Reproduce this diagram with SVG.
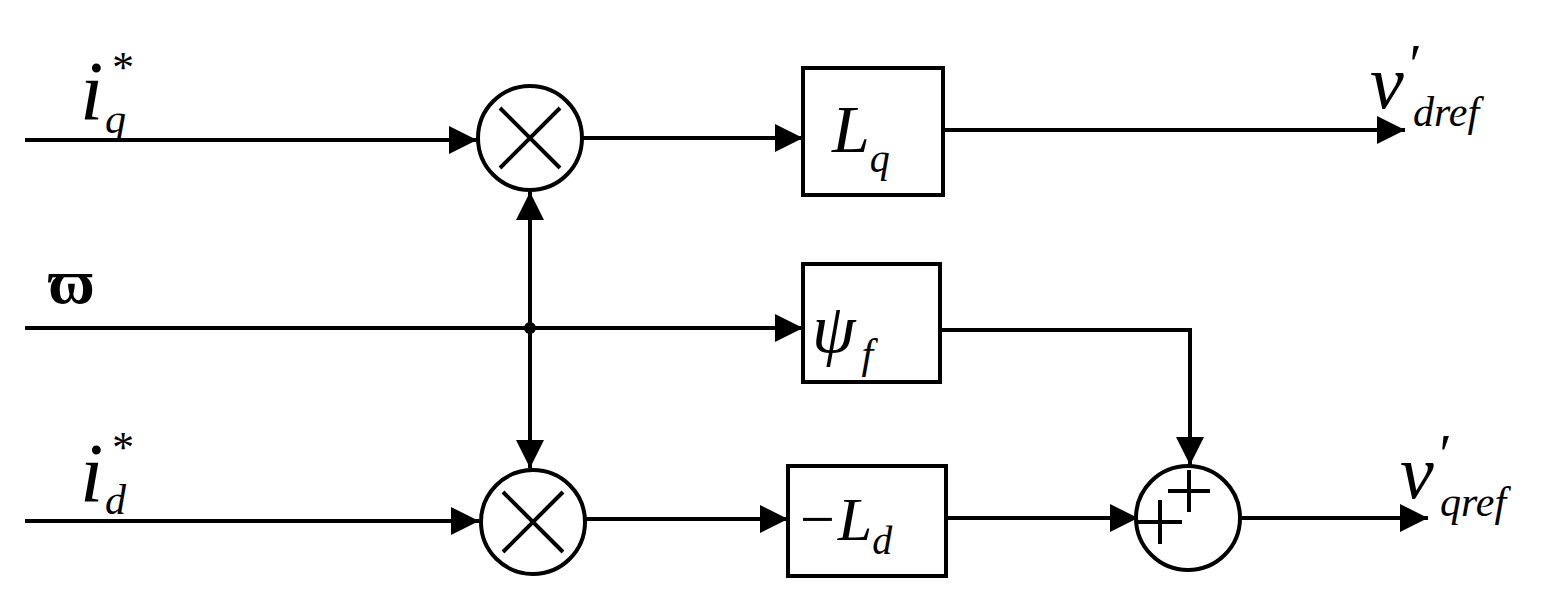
<svg xmlns="http://www.w3.org/2000/svg" width="1554" height="604" viewBox="0 0 1554 604">
<style>
.l{stroke:#000;stroke-width:4;fill:none}
.b{stroke:#000;stroke-width:4;fill:#fff}
.t{font-family:"Liberation Serif",serif;font-style:italic;fill:#000}
</style>
<defs>
<marker id="ah" viewBox="0 0 10 10" refX="10" refY="5" markerWidth="28" markerHeight="32" orient="auto-start-reverse" markerUnits="userSpaceOnUse"><path d="M0,0L10,5L0,10z"/></marker></defs>
<rect width="1554" height="604" fill="#fff"/>
<g id="connectors">
<line class="l" x1="25" y1="140" x2="477" y2="140" marker-end="url(#ah)"/>
<line class="l" x1="583" y1="138" x2="803" y2="138" marker-end="url(#ah)"/>
<line class="l" x1="943" y1="130" x2="1405" y2="130" marker-end="url(#ah)"/>
<line class="l" x1="25" y1="328" x2="803" y2="328" marker-end="url(#ah)"/>
<line class="l" x1="530" y1="328" x2="530" y2="192" marker-end="url(#ah)"/>
<line class="l" x1="530" y1="328" x2="530" y2="468" marker-end="url(#ah)"/>
<circle cx="530" cy="328" r="6"/>
<line class="l" x1="25" y1="521" x2="479" y2="521" marker-end="url(#ah)"/>
<line class="l" x1="586" y1="519" x2="788" y2="519" marker-end="url(#ah)"/>
<polyline class="l" points="940,330 1190,330 1190,465" marker-end="url(#ah)"/>
<line class="l" x1="946" y1="518" x2="1138" y2="518" marker-end="url(#ah)"/>
<line class="l" x1="1240" y1="518" x2="1428" y2="518" marker-end="url(#ah)"/>
</g>
<g id="mul1"><circle class="b" cx="530" cy="138" r="52"/><path class="l" d="M500,108L560,168M560,108L500,168"/></g>
<g id="mul2"><circle class="b" cx="533" cy="522" r="52"/><path class="l" d="M503,492L563,552M563,492L503,552"/></g>
<g id="Lq"><rect class="b" x="803" y="68" width="140" height="127"/><text class="t" x="832" y="152" font-size="68">L<tspan font-size="40" dy="20">q</tspan></text></g>
<g id="psi"><rect class="b" x="803" y="264" width="137" height="118"/><text class="t" x="812" y="352" font-size="70">ψ<tspan font-size="42" dy="16" dx="6">f</tspan></text></g>
<g id="Ld"><rect class="b" x="788" y="466" width="158" height="110"/><text class="t" x="796" y="540" font-size="62">−L<tspan font-size="40" dy="14">d</tspan></text></g>
<g id="sum"><circle class="b" cx="1188" cy="518" r="52"/><path class="l" stroke-width="7" d="M1168,491h42M1189,470v42M1138,522h44M1160,500v44"/></g>
<g id="labels">
<text class="t" x="80" y="120" font-size="84">i</text><text class="t" x="110" y="82" font-size="44" font-style="normal">*</text><text class="t" x="105" y="133" font-size="42">q</text>
<text class="t" x="80" y="502" font-size="84">i</text><text class="t" x="110" y="462" font-size="44" font-style="normal">*</text><text class="t" x="105" y="514" font-size="42">d</text>
<text x="48" y="303" font-family="Liberation Serif,serif" font-weight="bold" font-size="64">ϖ</text>
<text class="t" x="1370" y="108" font-size="76">v</text><text class="t" x="1406" y="84" font-size="56" font-style="normal">′</text><text class="t" x="1413" y="126" font-size="42">dref</text>
<text class="t" x="1400" y="498" font-size="76">v</text><text class="t" x="1436" y="474" font-size="56" font-style="normal">′</text><text class="t" x="1440" y="516" font-size="42">qref</text>
</g>
</svg>
